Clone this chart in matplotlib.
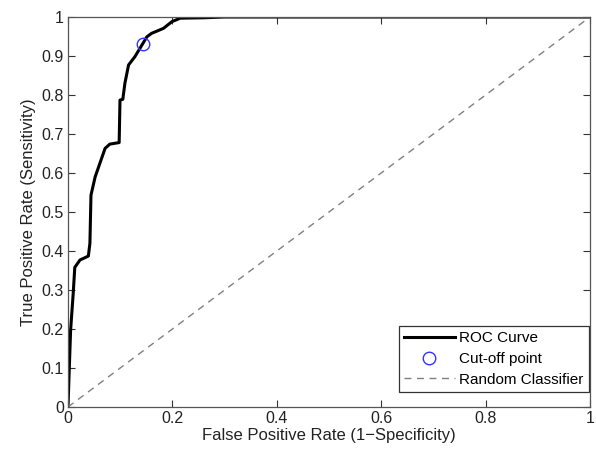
import matplotlib
matplotlib.use("Agg")
import matplotlib.pyplot as plt

plt.rcParams['font.family'] = ['Liberation Sans', 'DejaVu Sans']

fpr = [0.0, 0.003, 0.005, 0.010, 0.013, 0.023, 0.039, 0.042, 0.044, 0.052, 0.071, 0.080,
       0.098, 0.0996, 0.105, 0.109, 0.116, 0.128, 0.138, 0.151, 0.160, 0.183,
       0.199, 0.215, 0.26, 0.30, 1.0]
tpr = [0.0, 0.12, 0.197, 0.292, 0.358, 0.377, 0.387, 0.42, 0.543, 0.59, 0.663, 0.674,
       0.678, 0.787, 0.789, 0.830, 0.877, 0.898, 0.920, 0.949, 0.958, 0.971,
       0.988, 0.997, 0.998, 1.0, 1.0]
cutoff_x = [0.143]
cutoff_y = [0.932]
rand_x = [0, 1]
rand_y = [0, 1]

xticks = [0, 0.2, 0.4, 0.6, 0.8, 1]
yticks = [0, 0.1, 0.2, 0.3, 0.4, 0.5, 0.6, 0.7, 0.8, 0.9, 1]

fig = plt.figure(figsize=(5.96, 4.53), dpi=100)
ax = fig.add_axes([68/596, 46/453, 522/596, 390/453])

ax.plot(fpr, tpr, color='black', lw=2.2, label='ROC Curve')
ax.plot(cutoff_x, cutoff_y, 'o', mfc='none', mec='#3333ff', ms=9, mew=1.0,
        label='Cut-off point')
ax.plot(rand_x, rand_y, '--', color='#808080', lw=1.0, dashes=(5, 4),
        label='Random Classifier')

ax.set_xlim(0, 1)
ax.set_ylim(0, 1)
ax.set_xticks(xticks)
ax.set_yticks(yticks)
ax.set_xticklabels(['0', '0.2', '0.4', '0.6', '0.8', '1'])
ax.set_yticklabels(['0', '0.1', '0.2', '0.3', '0.4', '0.5', '0.6', '0.7', '0.8', '0.9', '1'])
ax.tick_params(direction='in', top=True, right=True, length=5, width=0.8,
               labelsize=11.5, colors='#333333', labelcolor='#222222', pad=3)
for s in ax.spines.values():
    s.set_color('#555555')
    s.set_linewidth(0.9)

ax.set_xlabel('False Positive Rate (1\u2212Specificity)', fontsize=12, color='#222222', labelpad=1)
ax.set_ylabel('True Positive Rate (Sensitivity)', fontsize=12, color='#222222', labelpad=4)

leg = ax.legend(loc='lower right', bbox_to_anchor=(0.998, 0.038), fontsize=11,
                frameon=True, fancybox=False,
                edgecolor='#333333', framealpha=1, borderpad=0.35, labelspacing=0.45,
                handlelength=3.3, handletextpad=0.3, borderaxespad=0)
leg.get_frame().set_linewidth(0.9)

fig.savefig('out.png', dpi=100)
